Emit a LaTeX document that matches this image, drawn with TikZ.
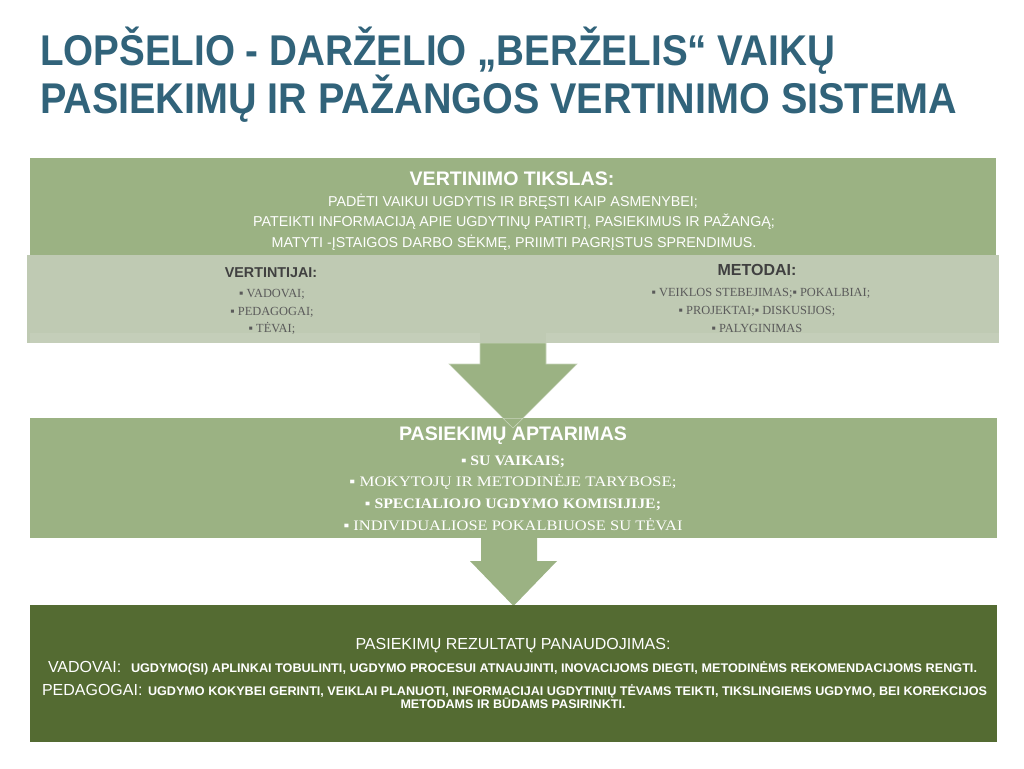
\documentclass[tikz,border=0pt]{standalone}
\usepackage{fontspec}
\usepackage{graphicx}
\setmainfont{Liberation Serif}
\newfontfamily\arialf{Liberation Sans}
\newcommand{\fitto}[2]{\resizebox{#1}{\height}{#2}}
\definecolor{cgreen}{HTML}{9BB283}
\definecolor{csub}{HTML}{BFCAB3}
\definecolor{cstrip}{HTML}{C4CEB9}
\definecolor{cdark}{HTML}{546B32}
\definecolor{ctitle}{HTML}{31637A}
\definecolor{cgray}{HTML}{404040}
\definecolor{citem}{HTML}{5A5A5A}
\begin{document}
\begin{tikzpicture}[x=1pt,y=-1pt,
  every node/.style={inner sep=0pt,outer sep=0pt},
  panel/.style={draw=none,anchor=north west},
  titletxt/.style={font=\arialf\bfseries\fontsize{43}{48}\selectfont,text=ctitle,anchor=base west},
  hd/.style={font=\arialf\bfseries\fontsize{19.6}{22}\selectfont,text=white,anchor=base},
  ln/.style={font=\arialf\fontsize{14.3}{17}\selectfont,text=white,anchor=base},
  subhd/.style={font=\arialf\bfseries\fontsize{14.3}{16}\selectfont,text=cgray,anchor=base},
  subit/.style={font=\fontsize{12.4}{14}\selectfont,text=citem,anchor=base},
  midit/.style={font=\fontsize{14.5}{16}\selectfont,text=white,anchor=base},
  reshd/.style={font=\arialf\fontsize{16}{18}\selectfont,text=white,anchor=base},
  reslbl/.style={font=\arialf\fontsize{16}{18}\selectfont,text=white,anchor=base west},
  resln/.style={font=\arialf\bfseries\fontsize{12.5}{14}\selectfont,text=white,anchor=base west},
  blockarrow/.style={fill=cgreen,draw=white!45!cgreen,line width=0.6pt}
]
\useasboundingbox[fill=white] (0,0) rectangle (1024,768);

% title
\node[titletxt] (t1) at (40,65) {\fitto{795pt}{LOPŠELIO - DARŽELIO „BERŽELIS“ VAIKŲ}};
\node[titletxt] (t2) at (40,113) {\fitto{917pt}{PASIEKIMŲ IR PAŽANGOS VERTINIMO SISTEMA}};

% top goal box
\node[panel,fill=cgreen,minimum width=966pt,minimum height=142pt] (goal) at (30,158) {};
\node[hd] (goalhd) at (512,185) {VERTINIMO TIKSLAS:};
\node[ln] (g1) at (513,206) {PADĖTI VAIKUI UGDYTIS IR BRĘSTI KAIP ASMENYBEI;};
\node[ln] (g2) at (514,226) {PATEIKTI INFORMACIJĄ APIE UGDYTINŲ PATIRTĮ, PASIEKIMUS IR PAŽANGĄ;};
\node[ln] (g3) at (514,247) {MATYTI -ĮSTAIGOS DARBO SĖKMĘ, PRIIMTI PAGRĮSTUS SPRENDIMUS.};

% arrow 1
\filldraw[blockarrow] (480,343) -- (546,343) -- (546,364) -- (577,364) -- (513,428) -- (449,364) -- (480,364) -- cycle;

% sub panels
\node[panel,fill=csub,minimum width=489pt,minimum height=88pt] (eval) at (27,255) {};
\node[panel,fill=csub,minimum width=483pt,minimum height=88pt] (meth) at (516,255) {};
\fill[cstrip] (30,333) rectangle (480,343);
\fill[cstrip] (546,333) rectangle (999,343);

\node[subhd] (evalhd) at (271,277) {VERTINTIJAI:};
\node[subit] (e1) at (272,297) {▪ VADOVAI;};
\node[subit] (e2) at (272,315) {▪ PEDAGOGAI;};
\node[subit] (e3) at (272,332) {▪ TĖVAI;};

\node[subhd,font=\arialf\bfseries\fontsize{16}{18}\selectfont] (methhd) at (757,275) {METODAI:};
\node[subit] (m1) at (761,296) {▪ VEIKLOS STEBEJIMAS;▪ POKALBIAI;};
\node[subit] (m2) at (757,314) {▪ PROJEKTAI;▪ DISKUSIJOS;};
\node[subit] (m3) at (757,332) {▪ PALYGINIMAS};

% middle box
\node[panel,fill=cgreen,minimum width=967pt,minimum height=120pt] (disc) at (30,418) {};
\filldraw[blockarrow] (503,418.3) -- (523,418.3) -- (513,428) -- cycle;
\node[hd] (dischd) at (513,440) {PASIEKIMŲ APTARIMAS};
\node[midit] (d1) at (513,465) {\fitto{104pt}{\bfseries ▪ SU VAIKAIS;}};
\node[midit] (d2) at (513,486) {\fitto{327pt}{▪ MOKYTOJŲ IR METODINĖJE TARYBOSE;}};
\node[midit] (d3) at (513,508) {\fitto{296pt}{\bfseries ▪ SPECIALIOJO UGDYMO KOMISIJIJE;}};
\node[midit] (d4) at (513,530) {\fitto{339pt}{▪ INDIVIDUALIOSE POKALBIUOSE SU TĖVAI}};

% arrow 2
\fill[cgreen] (481,538) -- (537,538) -- (537,561) -- (557,561) -- (513.5,606) -- (470,561) -- (481,561) -- cycle;

% result box
\node[panel,fill=cdark,minimum width=967pt,minimum height=137pt] (res) at (30,605) {};
\node[reshd] (reshd) at (513,649) {PASIEKIMŲ REZULTATŲ PANAUDOJIMAS:};
\node[reslbl] (r1a) at (48,672) {VADOVAI:};
\node[resln] (r1b) at (131,672) {\fitto{846pt}{UGDYMO(SI) APLINKAI TOBULINTI, UGDYMO PROCESUI ATNAUJINTI, INOVACIJOMS DIEGTI, METODINĖMS REKOMENDACIJOMS RENGTI.}};
\node[reslbl] (r2a) at (42,695) {PEDAGOGAI:};
\node[resln] (r2b) at (148,695) {\fitto{839pt}{UGDYMO KOKYBEI GERINTI, VEIKLAI PLANUOTI, INFORMACIJAI UGDYTINIŲ TĖVAMS TEIKTI, TIKSLINGIEMS UGDYMO, BEI KOREKCIJOS}};
\node[resln,anchor=base] (r3) at (513,708) {\fitto{225pt}{METODAMS IR BŪDAMS PASIRINKTI.}};
\end{tikzpicture}
\end{document}
